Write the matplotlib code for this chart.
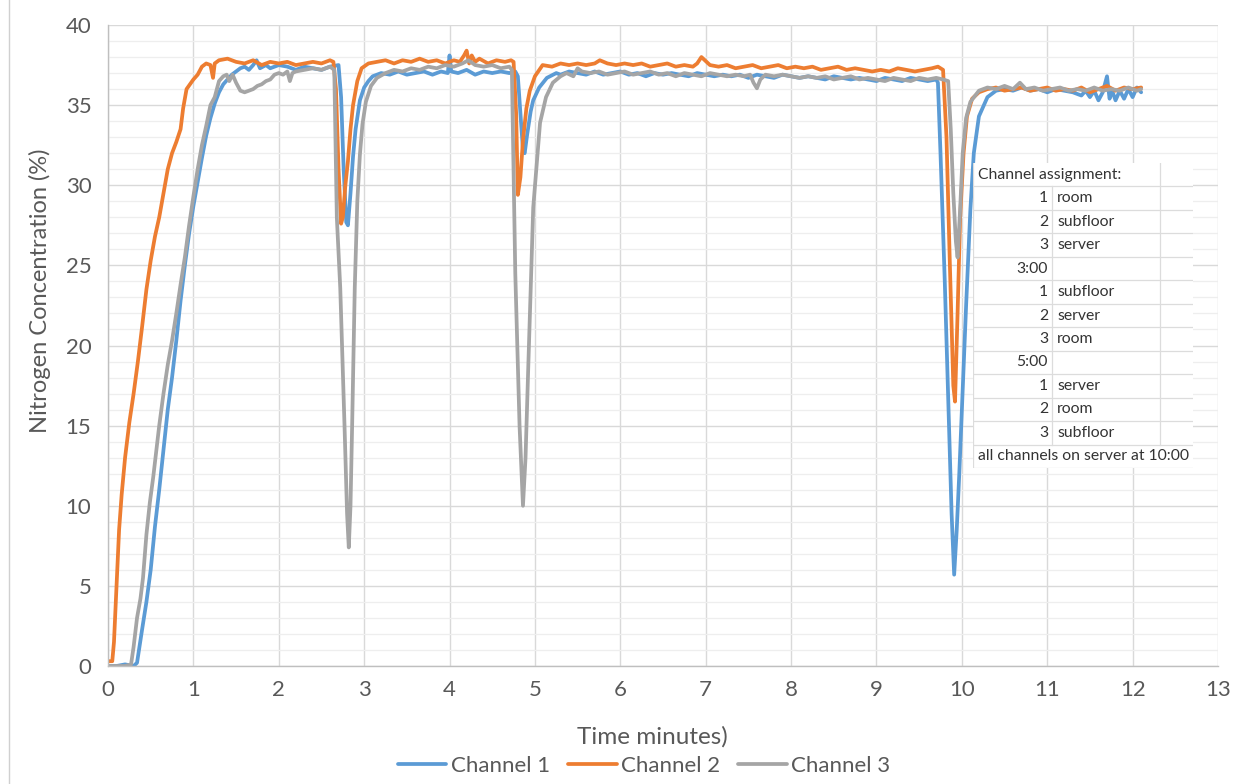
import numpy as np
import matplotlib.pyplot as plt
from matplotlib.lines import Line2D
from matplotlib.ticker import MultipleLocator

plt.rcParams['font.family'] = ['Lato', 'DejaVu Sans']

# (time in minutes, N2 %) read per channel
channel1 = [
    (0, 0), (0.1, 0), (0.2, 0.1), (0.3, 0), (0.34, 0.2), (0.4, 2.3), (0.45, 4), (0.5, 6),
    (0.55, 8.7), (0.6, 11), (0.65, 13.5), (0.7, 16), (0.75, 18), (0.8, 20.3), (0.85, 22.8),
    (0.9, 25), (0.95, 27), (1.0, 28.7), (1.05, 30.2), (1.1, 31.7), (1.15, 33.1), (1.2, 34.2),
    (1.25, 35.1), (1.3, 35.8), (1.35, 36.3), (1.4, 36.6), (1.45, 36.9), (1.5, 37.1), (1.55, 37.3),
    (1.6, 37.4), (1.65, 37.2), (1.7, 37.5), (1.74, 37.8), (1.78, 37.3), (1.85, 37.5), (1.9, 37.3),
    (2.0, 37.5), (2.1, 37.4), (2.2, 37.2), (2.3, 37.4), (2.4, 37.3), (2.5, 37.2), (2.6, 37.4),
    (2.7, 37.5), (2.73, 35.5), (2.76, 31), (2.79, 27.7), (2.81, 27.5), (2.84, 29.5), (2.87, 31.8),
    (2.9, 33.5), (2.95, 35.3), (3.0, 36.1), (3.05, 36.5), (3.1, 36.8), (3.2, 37.0), (3.3, 36.9),
    (3.4, 37.1), (3.5, 36.9), (3.6, 37.0), (3.7, 37.1), (3.8, 36.9), (3.9, 37.1), (3.98, 37.0),
    (4.0, 38.1), (4.02, 37.1), (4.1, 37.0), (4.2, 37.2), (4.3, 36.9), (4.4, 37.1), (4.5, 37.0),
    (4.6, 37.1), (4.7, 37.0), (4.77, 37.1), (4.8, 36.8), (4.83, 34.5), (4.86, 32.2), (4.88, 32.0),
    (4.91, 33.2), (4.95, 34.6), (4.98, 35.3), (5.05, 36.1), (5.14, 36.7), (5.25, 37.0), (5.3, 36.9),
    (5.4, 37.1), (5.5, 37.0), (5.6, 36.9), (5.7, 37.1), (5.8, 36.9), (5.9, 37.0), (6.0, 37.1),
    (6.1, 36.9), (6.2, 37.0), (6.3, 36.8), (6.4, 37.0), (6.5, 36.9), (6.6, 37.0), (6.7, 36.9),
    (6.8, 36.8), (6.9, 37.0), (7.0, 36.9), (7.1, 36.8), (7.2, 36.9), (7.3, 36.8), (7.4, 36.9),
    (7.5, 36.7), (7.6, 36.9), (7.7, 36.8), (7.8, 36.7), (7.9, 36.9), (8.0, 36.8), (8.1, 36.7),
    (8.2, 36.8), (8.3, 36.7), (8.4, 36.6), (8.5, 36.8), (8.6, 36.7), (8.7, 36.6), (8.8, 36.7),
    (8.9, 36.6), (9.0, 36.5), (9.1, 36.7), (9.2, 36.6), (9.3, 36.5), (9.4, 36.7), (9.5, 36.6),
    (9.6, 36.5), (9.7, 36.6), (9.72, 36.4), (9.75, 32), (9.8, 24), (9.85, 15), (9.88, 9.5),
    (9.91, 5.7), (9.94, 8.5), (9.97, 12), (10.0, 16), (10.05, 22.5), (10.1, 28.5), (10.14, 32),
    (10.2, 34.3), (10.3, 35.5), (10.4, 35.9), (10.5, 36.0), (10.6, 35.9), (10.7, 36.1), (10.8, 35.9),
    (10.9, 36.0), (11.0, 35.8), (11.1, 36.0), (11.2, 35.9), (11.3, 35.8), (11.4, 35.6), (11.45, 35.9),
    (11.5, 35.5), (11.55, 35.9), (11.6, 35.3), (11.65, 35.8), (11.7, 36.8), (11.73, 35.4),
    (11.76, 35.9), (11.8, 35.3), (11.85, 35.9), (11.9, 35.4), (11.95, 36.0), (12.0, 35.5),
    (12.05, 36.1), (12.1, 35.8),
]

channel2 = [
    (0, 0.3), (0.05, 0.3), (0.07, 1.5), (0.1, 5), (0.13, 8.5), (0.16, 10.7), (0.2, 13),
    (0.25, 15.2), (0.3, 17), (0.35, 19), (0.4, 21.2), (0.45, 23.5), (0.5, 25.3), (0.55, 26.8),
    (0.6, 28), (0.65, 29.5), (0.7, 31), (0.75, 32), (0.8, 32.7), (0.85, 33.5), (0.88, 34.8),
    (0.92, 36.0), (0.96, 36.3), (1.0, 36.6), (1.05, 36.9), (1.1, 37.4), (1.15, 37.6), (1.2, 37.5),
    (1.23, 36.7), (1.25, 37.6), (1.3, 37.8), (1.4, 37.9), (1.5, 37.7), (1.6, 37.6), (1.7, 37.8),
    (1.8, 37.5), (1.9, 37.7), (2.0, 37.6), (2.1, 37.7), (2.2, 37.5), (2.3, 37.6), (2.4, 37.7),
    (2.5, 37.6), (2.6, 37.8), (2.64, 37.7), (2.67, 36.0), (2.7, 31.0), (2.73, 27.6), (2.75, 28.0),
    (2.78, 30.0), (2.81, 31.5), (2.84, 33.5), (2.87, 35.0), (2.92, 36.5), (2.97, 37.3), (3.05, 37.6),
    (3.15, 37.7), (3.25, 37.8), (3.35, 37.6), (3.45, 37.8), (3.55, 37.7), (3.65, 37.9), (3.75, 37.7),
    (3.85, 37.8), (3.95, 37.6), (4.05, 37.8), (4.12, 37.7), (4.17, 38.1), (4.2, 38.4), (4.23, 37.6),
    (4.26, 38.1), (4.3, 37.7), (4.35, 37.9), (4.45, 37.6), (4.55, 37.8), (4.65, 37.7), (4.72, 37.8),
    (4.75, 37.7), (4.78, 34.5), (4.8, 29.4), (4.83, 30.5), (4.86, 32.8), (4.9, 34.8), (4.94, 35.9),
    (5.0, 36.8), (5.09, 37.5), (5.2, 37.4), (5.3, 37.6), (5.4, 37.5), (5.5, 37.6), (5.6, 37.5),
    (5.7, 37.6), (5.76, 37.8), (5.85, 37.6), (5.95, 37.5), (6.05, 37.6), (6.15, 37.5), (6.25, 37.6),
    (6.35, 37.4), (6.45, 37.5), (6.55, 37.6), (6.65, 37.4), (6.75, 37.5), (6.85, 37.4), (6.9, 37.6),
    (6.95, 38.0), (7.05, 37.5), (7.15, 37.4), (7.25, 37.5), (7.35, 37.3), (7.45, 37.4), (7.55, 37.5),
    (7.65, 37.3), (7.75, 37.4), (7.85, 37.5), (7.95, 37.3), (8.05, 37.4), (8.15, 37.3), (8.25, 37.4),
    (8.35, 37.2), (8.45, 37.3), (8.55, 37.4), (8.65, 37.2), (8.75, 37.3), (8.85, 37.2), (8.95, 37.1),
    (9.05, 37.2), (9.15, 37.1), (9.25, 37.3), (9.35, 37.2), (9.45, 37.1), (9.55, 37.2), (9.65, 37.3),
    (9.72, 37.4), (9.78, 37.2), (9.82, 33.0), (9.86, 25.0), (9.9, 17.5), (9.92, 16.5), (9.95, 22.0),
    (9.98, 28.0), (10.02, 32.0), (10.06, 34.3), (10.12, 35.4), (10.2, 35.8), (10.3, 36.0),
    (10.4, 36.1), (10.5, 35.9), (10.6, 36.0), (10.7, 36.1), (10.8, 35.9), (10.9, 36.0), (11.0, 36.1),
    (11.1, 35.9), (11.2, 36.0), (11.3, 35.9), (11.4, 36.1), (11.5, 35.8), (11.6, 36.0), (11.7, 36.2),
    (11.8, 35.9), (11.9, 36.1), (12.0, 36.0), (12.1, 36.1),
]

channel3 = [
    (0, 0), (0.1, 0), (0.2, 0), (0.27, 0.1), (0.3, 1.2), (0.34, 3), (0.38, 4.2), (0.41, 5.5),
    (0.45, 8.2), (0.49, 10.2), (0.53, 11.8), (0.57, 13.6), (0.6, 15.0), (0.65, 17.0), (0.7, 18.8),
    (0.75, 20.3), (0.8, 22), (0.85, 23.8), (0.9, 25.5), (0.95, 27.5), (1.0, 29.3), (1.05, 31),
    (1.1, 32.5), (1.15, 33.7), (1.2, 35.0), (1.25, 35.5), (1.3, 36.5), (1.35, 36.8), (1.39, 36.9),
    (1.42, 36.5), (1.46, 36.9), (1.5, 36.4), (1.55, 35.9), (1.6, 35.8), (1.65, 35.9), (1.7, 36.0),
    (1.75, 36.2), (1.8, 36.3), (1.85, 36.5), (1.9, 36.6), (1.95, 36.9), (2.0, 37.0), (2.05, 36.9),
    (2.1, 37.1), (2.13, 36.5), (2.16, 37.0), (2.2, 37.1), (2.3, 37.2), (2.4, 37.3), (2.5, 37.2),
    (2.6, 37.4), (2.65, 37.2), (2.68, 28), (2.72, 23.6), (2.77, 15), (2.8, 9.5), (2.82, 7.4),
    (2.84, 10), (2.86, 15.2), (2.89, 23.6), (2.92, 29), (2.95, 31.9), (2.98, 33.8), (3.02, 35.2),
    (3.08, 36.2), (3.15, 36.7), (3.25, 37.0), (3.35, 37.2), (3.45, 37.1), (3.55, 37.3), (3.65, 37.2),
    (3.75, 37.4), (3.85, 37.3), (3.95, 37.5), (4.05, 37.4), (4.15, 37.6), (4.22, 37.8), (4.3, 37.5),
    (4.4, 37.4), (4.5, 37.5), (4.6, 37.3), (4.7, 37.4), (4.73, 37.2), (4.77, 24.5), (4.82, 15),
    (4.86, 10.0), (4.89, 13), (4.92, 18.3), (4.98, 28.6), (5.06, 33.9), (5.13, 35.5), (5.21, 36.4),
    (5.3, 36.8), (5.37, 37.0), (5.45, 36.8), (5.5, 37.3), (5.55, 37.1), (5.65, 37.0), (5.75, 37.1),
    (5.85, 36.9), (5.95, 37.0), (6.05, 37.1), (6.15, 36.9), (6.25, 37.0), (6.35, 37.1), (6.45, 36.9),
    (6.55, 37.0), (6.65, 36.8), (6.75, 37.0), (6.85, 36.9), (6.95, 36.8), (7.05, 37.0), (7.15, 36.9),
    (7.25, 36.8), (7.35, 36.9), (7.45, 36.8), (7.52, 36.9), (7.56, 36.4), (7.6, 36.05), (7.64, 36.6),
    (7.7, 36.9), (7.8, 36.8), (7.9, 36.9), (8.0, 36.8), (8.1, 36.7), (8.2, 36.8), (8.3, 36.7),
    (8.4, 36.8), (8.5, 36.6), (8.6, 36.7), (8.7, 36.8), (8.8, 36.6), (8.9, 36.7), (9.0, 36.6),
    (9.1, 36.5), (9.2, 36.7), (9.3, 36.6), (9.4, 36.5), (9.5, 36.7), (9.6, 36.6), (9.7, 36.7),
    (9.78, 36.6), (9.84, 36.5), (9.87, 33.5), (9.9, 29.5), (9.93, 26.5), (9.95, 25.5), (9.98, 28.5),
    (10.01, 32.0), (10.05, 34.2), (10.1, 35.2), (10.2, 35.9), (10.3, 36.1), (10.4, 36.0), (10.5, 36.2),
    (10.6, 36.0), (10.68, 36.4), (10.75, 36.0), (10.85, 36.1), (10.95, 35.9), (11.05, 36.0),
    (11.15, 36.1), (11.25, 35.9), (11.35, 36.0), (11.45, 35.9), (11.55, 36.1), (11.65, 35.9),
    (11.75, 36.0), (11.85, 35.9), (11.95, 36.1), (12.05, 35.9), (12.1, 36.0),
]

channel_names = ['Channel 1', 'Channel 2', 'Channel 3']
channel_colors = ['#5B9BD5', '#ED7D31', '#A5A5A5']

# assignment notes shown in the box on the right: (number column, text column)
assignment_rows = [
    ('1', 'room'), ('2', 'subfloor'), ('3', 'server'), ('3:00', ''),
    ('1', 'subfloor'), ('2', 'server'), ('3', 'room'), ('5:00', ''),
    ('1', 'server'), ('2', 'room'), ('3', 'subfloor'),
]
assignment_title = 'Channel assignment:'
assignment_footer = 'all channels on server at 10:00'

W, H = 1251, 784
fig = plt.figure(figsize=(W / 100, H / 100), dpi=100)
ax = fig.add_axes([108 / W, 1 - 666 / H, (1218 - 108) / W, (666 - 25) / H])

for data, name, color in zip([channel1, channel2, channel3], channel_names, channel_colors):
    t, v = np.array(data).T
    ax.plot(t, v, color=color, lw=2.7, label=name, solid_joinstyle='round', solid_capstyle='round')

ax.set_xlim(0, 13)
ax.set_ylim(0, 40)
ax.xaxis.set_major_locator(MultipleLocator(1))
ax.yaxis.set_major_locator(MultipleLocator(5))
ax.yaxis.set_minor_locator(MultipleLocator(1))
ax.grid(which='major', color='#d9d9d9', lw=1.0)
ax.grid(which='minor', axis='y', color='#eeeeee', lw=0.9)
ax.set_axisbelow(True)
for side in ['top', 'right']:
    ax.spines[side].set_visible(False)
for side in ['left', 'bottom']:
    ax.spines[side].set_color('#bfbfbf')
    ax.spines[side].set_linewidth(1.0)
ax.tick_params(which='both', length=0, colors='#595959', labelsize=16)
ax.tick_params(axis='x', pad=10)
ax.tick_params(axis='y', pad=12)

fig.text(40 / W, 1 - 291 / H, 'Nitrogen Concentration (%)', rotation=90,
         ha='center', va='center', fontsize=17, color='#595959')
fig.text(652 / W, 1 - 737 / H, 'Time minutes)', ha='center', va='center',
         fontsize=17.5, color='#595959')

fig.legend(loc='center', bbox_to_anchor=(644 / W, 1 - 766 / H), ncol=3, frameon=False,
           fontsize=16, labelcolor='#595959', handlelength=2.2, handletextpad=0.2,
           columnspacing=0.8)

# assignment box, laid out in pixel units
tb = fig.add_axes([973 / W, 1 - 468 / H, 220 / W, 305 / H])
tb.set_xlim(0, 220)
tb.set_ylim(13, 0)
tb.axis('off')
tb.add_patch(plt.Rectangle((0, 0), 220, 13, facecolor='white', edgecolor='none'))
line_c = '#dcdcdc'
for r in range(1, 14):
    tb.plot([0, 220], [r, r], color=line_c, lw=0.9)
tb.plot([0, 0], [0, 13], color=line_c, lw=0.9)
tb.plot([79, 79], [1, 12], color=line_c, lw=0.9)
tb.plot([187, 187], [0, 12], color=line_c, lw=0.9)

txt_c = '#333333'
tb.text(5, 0.5, assignment_title, ha='left', va='center', fontsize=11.3, color=txt_c)
for i, (num, place) in enumerate(assignment_rows):
    y = i + 1.5
    tb.text(75, y, num, ha='right', va='center', fontsize=11.3, color=txt_c)
    if place:
        tb.text(84, y, place, ha='left', va='center', fontsize=11.3, color=txt_c)
tb.text(5, 12.5, assignment_footer, ha='left', va='center', fontsize=11.3, color=txt_c)

fig.add_artist(Line2D([9 / W, 9 / W], [0, 1], color='#d0d0d0', lw=1.0))

fig.savefig('out.png', dpi=100)
